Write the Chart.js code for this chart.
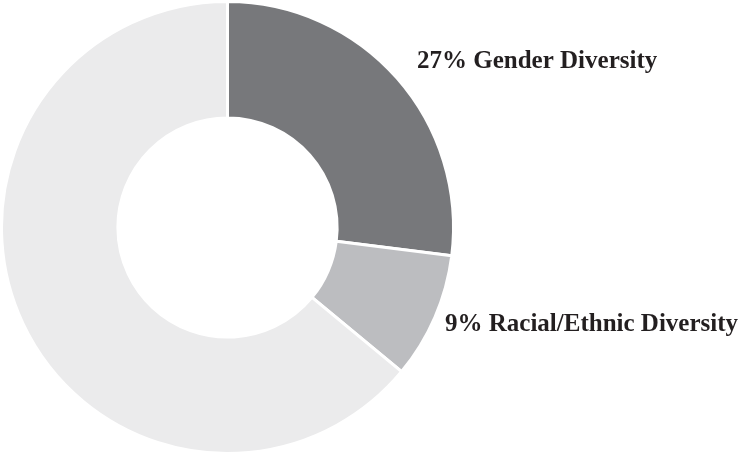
<!DOCTYPE html>
<html lang="en">
<head>
    <meta charset="UTF-8">
    <title>Diversity</title>
    <script src="https://cdn.jsdelivr.net/npm/chart.js"></script>
    <style>
        body {
            margin: 0;
            padding: 0;
            background: #ffffff;
        }
        .chart-container {
            width: 739px;
            height: 455px;
        }
    </style>
</head>
<body>
    <div class="chart-container">
        <canvas id="diversityChart"></canvas>
    </div>

    <script>
        const categories = ['Gender Diversity', 'Racial/Ethnic Diversity', 'Other'];
        const shares = [27, 9, 64];
        const sliceColors = ['#77787b', '#bcbdc0', '#ebebec'];
        const labelled = [true, true, false];

        // labels drawn to the right of the ring, level with their slice
        const labelPlugin = {
            id: 'sideLabels',
            afterDraw(chart) {
                const ctx = chart.ctx;
                const meta = chart.getDatasetMeta(0);
                ctx.save();
                ctx.font = 'bold 25px "Liberation Serif", "Times New Roman", serif';
                ctx.fillStyle = '#231f20';
                ctx.textBaseline = 'middle';
                const textX = [417, 445];
                const textY = [62, 325];
                meta.data.forEach((arc, i) => {
                    if (!labelled[i]) return;
                    ctx.fillText(shares[i] + '% ' + categories[i], textX[i], textY[i]);
                });
                ctx.restore();
            }
        };

        new Chart(document.getElementById('diversityChart'), {
            type: 'doughnut',
            data: {
                labels: categories,
                datasets: [{
                    data: shares,
                    backgroundColor: sliceColors,
                    borderColor: '#ffffff',
                    borderWidth: 3
                }]
            },
            options: {
                responsive: true,
                maintainAspectRatio: false,
                animation: false,
                cutout: '48.5%',
                layout: {
                    padding: { left: 0, top: 0, bottom: 0, right: 284 }
                },
                plugins: {
                    legend: { display: false },
                    tooltip: { enabled: false }
                }
            },
            plugins: [labelPlugin]
        });
    </script>
</body>
</html>
